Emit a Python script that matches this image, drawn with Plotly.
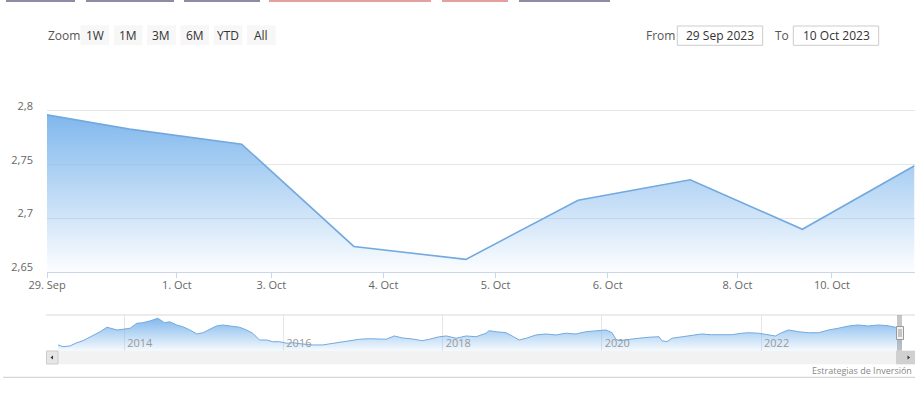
import numpy as np
import pandas as pd
import plotly.graph_objects as go

# ---------------- data ----------------
main_dates = ["2023-09-28 17:40", "2023-09-29 17:40", "2023-10-02 17:40", "2023-10-03 17:40",
              "2023-10-04 17:40", "2023-10-05 17:40", "2023-10-06 17:40", "2023-10-09 17:40",
              "2023-10-10 17:40"]
main_values = [2.801, 2.783, 2.769, 2.674, 2.662, 2.717, 2.736, 2.690, 2.749]

tick_dates = ["2023-09-29", "2023-10-01", "2023-10-03", "2023-10-04", "2023-10-05",
              "2023-10-06", "2023-10-08", "2023-10-10"]
tick_labels = ["29. Sep", "1. Oct", "3. Oct", "4. Oct", "5. Oct", "6. Oct", "8. Oct", "10. Oct"]

y_ticks = [2.65, 2.70, 2.75, 2.80, 2.85]
y_tick_labels = ["2,65", "2,7", "2,75", "2,8", ""]

nav_dates = ["2013-03-03", "2013-03-26", "2013-04-27", "2013-05-29", "2013-06-26", "2013-07-28",
             "2013-08-20", "2013-09-12", "2013-10-14", "2013-11-06", "2013-11-29", "2013-12-27",
             "2014-01-28", "2014-02-28", "2014-03-27", "2014-04-28", "2014-06-04", "2014-07-05",
             "2014-07-28", "2014-08-30", "2014-09-27", "2014-10-29", "2014-11-30", "2014-12-28",
             "2015-01-29", "2015-02-28", "2015-03-28", "2015-05-08", "2015-06-14", "2015-07-16",
             "2015-08-13", "2015-09-14", "2015-10-16", "2015-11-13", "2015-12-15", "2016-01-17",
             "2016-02-13", "2016-03-29", "2016-05-14", "2016-06-29", "2016-08-14", "2016-09-15",
             "2016-11-01", "2016-12-16", "2017-02-01", "2017-03-16", "2017-04-17", "2017-05-24",
             "2017-06-30", "2017-08-15", "2017-09-30", "2017-11-01", "2017-12-17", "2018-01-18",
             "2018-03-04", "2018-04-19", "2018-06-04", "2018-07-19", "2018-08-02", "2018-09-04",
             "2018-10-19", "2018-11-16", "2018-12-18", "2019-01-20", "2019-03-05", "2019-04-20",
             "2019-06-05", "2019-07-20", "2019-09-05", "2019-10-20", "2019-12-05", "2020-01-21",
             "2020-02-18", "2020-03-06", "2020-03-20", "2020-05-05", "2020-06-20", "2020-08-05",
             "2020-09-20", "2020-10-03", "2020-10-26", "2020-11-19", "2021-01-04", "2021-02-19",
             "2021-04-04", "2021-05-19", "2021-07-04", "2021-08-19", "2021-10-04", "2021-11-06",
             "2021-12-21", "2022-02-06", "2022-03-08", "2022-04-05", "2022-05-07", "2022-06-22",
             "2022-08-07", "2022-09-22", "2022-11-07", "2022-12-22", "2023-02-07", "2023-03-23",
             "2023-05-08", "2023-06-23", "2023-08-08", "2023-09-09", "2023-10-10"]
nav_values = [2.03, 1.96, 1.99, 2.12, 2.20, 2.34,
              2.43, 2.56, 2.74, 2.70, 2.63, 2.66,
              2.70, 2.90, 2.92, 2.99, 3.10, 2.92,
              2.96, 2.83, 2.76, 2.63, 2.47, 2.52,
              2.66, 2.79, 2.83, 2.79, 2.74, 2.63,
              2.50, 2.23, 2.23, 2.16, 2.16, 2.10,
              2.12, 2.07, 2.03, 2.03, 2.10, 2.12,
              2.19, 2.26, 2.28, 2.28, 2.26, 2.39,
              2.31, 2.27, 2.20, 2.26, 2.36, 2.39,
              2.30, 2.39, 2.36, 2.50, 2.60, 2.56,
              2.52, 2.39, 2.23, 2.30, 2.43, 2.47,
              2.43, 2.50, 2.47, 2.56, 2.60, 2.63,
              2.52, 2.26, 2.20, 2.26, 2.30, 2.34,
              2.36, 2.20, 2.16, 2.30, 2.36, 2.43,
              2.47, 2.44, 2.43, 2.44, 2.50, 2.52,
              2.50, 2.43, 2.39, 2.52, 2.63, 2.56,
              2.52, 2.52, 2.63, 2.70, 2.79, 2.83,
              2.79, 2.83, 2.80, 2.74, 2.749]

range_buttons = ["1W", "1M", "3M", "6M", "YTD", "All"]
from_label = "29 Sep 2023"
to_label = "10 Oct 2023"
credit = "Estrategias de Inversión"

# ---------------- geometry helpers ----------------
W, H = 923, 398


def px(x):
    return x / W


def py(y):
    return 1 - y / H


# ordinal x axis: points equally spaced, ticks interpolated in time
ts = pd.to_datetime(pd.Series(main_dates)).astype("int64").to_numpy()
idx = np.arange(len(main_values), dtype=float)
tick_ts = pd.to_datetime(pd.Series(tick_dates)).astype("int64").to_numpy()
tick_pos = np.interp(tick_ts, ts, idx)
x_min = tick_pos[0]
x_max = idx[-1]

blue = "124,181,236"
line_col = "#72a9de"

fig = go.Figure()
fig.add_trace(go.Scatter(
    x=idx, y=main_values, mode="lines", line=dict(color=line_col, width=1.6),
    fill="tozeroy",
    fillgradient=dict(type="vertical",
                      colorscale=[[0, f"rgba({blue},0.02)"], [1, f"rgba({blue},1)"]],
                      start=y_ticks[0], stop=max(main_values)),
    xaxis="x", yaxis="y", hoverinfo="skip"))

fig.add_trace(go.Scatter(
    x=pd.to_datetime(nav_dates), y=nav_values, mode="lines",
    line=dict(color=line_col, width=1),
    fill="tozeroy",
    fillgradient=dict(type="vertical",
                      colorscale=[[0, f"rgba({blue},0.08)"], [1, f"rgba({blue},0.95)"]],
                      start=1.80, stop=max(nav_values)),
    xaxis="x2", yaxis="y2", hoverinfo="skip"))

grid = "#e6e6e6"
axis_line = "#ccd6eb"

layout = dict(
    width=W, height=H, autosize=False, margin=dict(l=0, r=0, t=0, b=0, pad=0),
    paper_bgcolor="white", plot_bgcolor="white", showlegend=False,
    separators=",.",
    font=dict(family="Open Sans, DejaVu Sans, sans-serif", size=11, color="#666666"),
    xaxis=dict(domain=[px(47), px(914.5)], range=[x_min, x_max], anchor="y", automargin=False,
               tickvals=tick_pos, ticktext=tick_labels, showgrid=False, zeroline=False,
               showline=True, linecolor=axis_line, linewidth=1,
               ticks="outside", ticklen=5, tickcolor=axis_line, ticklabelstandoff=-3,
               tickfont=dict(size=11, color="#666666")),
    yaxis=dict(domain=[py(272.3), py(57)], range=[y_ticks[0], y_ticks[-1]], anchor="x",
               automargin=False,
               tickvals=y_ticks, ticktext=y_tick_labels, showgrid=True, gridcolor=grid,
               zeroline=False, showline=False, ticks="", ticklabelstandoff=13,
               ticklabelshift=-5, tickfont=dict(size=11, color="#666666")),
    xaxis2=dict(domain=[px(58), px(902)], range=[pd.Timestamp(nav_dates[0]), pd.Timestamp(nav_dates[-1])],
                anchor="y2", type="date", tick0="2014-01-01", dtick="M24", tickformat="%Y",
                automargin=False,
                showgrid=True, gridcolor=grid, zeroline=False, showline=False, ticks="",
                ticklabelposition="inside right", ticklabelstandoff=-4, ticklabelshift=3,
                tickfont=dict(size=11, color="#999999")),
    yaxis2=dict(domain=[py(350.7), py(315)], range=[1.80, 3.23], anchor="x2", automargin=False,
                showgrid=False, zeroline=False, showticklabels=False, showline=False, ticks=""),
)

shapes = []
annotations = []

# top cut-off buttons of the page
for x0, x1, c in [(6, 75, "#8c8ca3"), (86, 174, "#8c8ca3"), (184, 260, "#8c8ca3"),
                  (269, 431, "#e3a0a0"), (442, 508, "#e3a0a0"), (519, 610, "#8c8ca3")]:
    shapes.append(dict(type="rect", xref="paper", yref="paper", x0=px(x0), x1=px(x1),
                       y0=py(2), y1=py(0), fillcolor=c, line=dict(width=0)))

# range selector
annotations.append(dict(text="Zoom", x=px(46), y=py(36), xref="paper", yref="paper",
                        xanchor="left", yanchor="middle", showarrow=False,
                        font=dict(size=12, color="#555555")))
for i, lab in enumerate(range_buttons):
    x0 = 80.5 + i * 33.3
    shapes.append(dict(type="rect", xref="paper", yref="paper", x0=px(x0), x1=px(x0 + 28.7),
                       y0=py(45.2), y1=py(25.3), fillcolor="#f7f7f7", line=dict(width=0)))
    annotations.append(dict(text=lab, x=px(x0 + 14.35), y=py(35.5), xref="paper", yref="paper",
                            xanchor="center", yanchor="middle", showarrow=False,
                            font=dict(size=12, color="#333333")))

annotations.append(dict(text="From", x=px(644), y=py(35.5), xref="paper", yref="paper",
                        xanchor="left", yanchor="middle", showarrow=False,
                        font=dict(size=12, color="#555555")))
annotations.append(dict(text="To", x=px(772.5), y=py(35.5), xref="paper", yref="paper",
                        xanchor="left", yanchor="middle", showarrow=False,
                        font=dict(size=12, color="#555555")))
for (x0, x1), lab in zip([(677.3, 762.7), (793.3, 878.7)], [from_label, to_label]):
    shapes.append(dict(type="rect", xref="paper", yref="paper", x0=px(x0), x1=px(x1),
                       y0=py(45.3), y1=py(26), fillcolor="white",
                       line=dict(color="#cccccc", width=1)))
    annotations.append(dict(text=lab, x=px((x0 + x1) / 2), y=py(35.5), xref="paper", yref="paper",
                            xanchor="center", yanchor="middle", showarrow=False,
                            font=dict(size=12, color="#333333")))

# navigator outline top
shapes.append(dict(type="line", xref="paper", yref="paper", x0=px(46), x1=px(915),
                   y0=py(315), y1=py(315), line=dict(color="#d9d9d9", width=1)))
# scrollbar track
shapes.append(dict(type="rect", xref="paper", yref="paper", x0=px(46), x1=px(915),
                   y0=py(364.3), y1=py(350.7), fillcolor="#f2f2f2", line=dict(width=0)))
# left button
shapes.append(dict(type="rect", xref="paper", yref="paper", x0=px(46.5), x1=px(58),
                   y0=py(364), y1=py(351), fillcolor="#e6e6e6",
                   line=dict(color="#cccccc", width=1)))
shapes.append(dict(type="path", xref="paper", yref="paper",
                   path=f"M {px(50.5)} {py(357.5)} L {px(53)} {py(355.5)} L {px(53)} {py(359.5)} Z",
                   fillcolor="#333333", line=dict(width=0)))
# scrollbar thumb + right button
shapes.append(dict(type="rect", xref="paper", yref="paper", x0=px(896), x1=px(915),
                   y0=py(364.3), y1=py(350.7), fillcolor="#d0d0d0", line=dict(width=0)))
shapes.append(dict(type="path", xref="paper", yref="paper",
                   path=f"M {px(907.5)} {py(355.5)} L {px(910)} {py(357.5)} L {px(907.5)} {py(359.5)} Z",
                   fillcolor="#333333", line=dict(width=0)))
# navigator selected band
shapes.append(dict(type="rect", xref="paper", yref="paper", x0=px(897), x1=px(902),
                   y0=py(350.7), y1=py(315), fillcolor="rgba(130,130,130,0.45)", line=dict(width=0)))
# handle
shapes.append(dict(type="rect", xref="paper", yref="paper", x0=px(896.5), x1=px(903.5),
                   y0=py(339.5), y1=py(326.5), fillcolor="#f2f2f2",
                   line=dict(color="#999999", width=1)))
for xx in (899, 901):
    shapes.append(dict(type="line", xref="paper", yref="paper", x0=px(xx), x1=px(xx),
                       y0=py(337), y1=py(329), line=dict(color="#999999", width=1)))

# bottom separator line + credit
shapes.append(dict(type="line", xref="paper", yref="paper", x0=px(3), x1=px(915),
                   y0=py(377.3), y1=py(377.3), line=dict(color="#cccccc", width=1)))
annotations.append(dict(text=credit, x=px(914), y=py(370.5), xref="paper", yref="paper",
                        xanchor="right", yanchor="middle", showarrow=False,
                        font=dict(size=9, color="#888888")))

layout["shapes"] = shapes
layout["annotations"] = annotations
fig.update_layout(**layout)
fig.write_html(
    "out.html",
    config={"displayModeBar": False},
    post_script=(
        "document.body.style.margin='0';document.body.style.padding='0';"
        "document.body.style.overflow='hidden';"
    ),
)
